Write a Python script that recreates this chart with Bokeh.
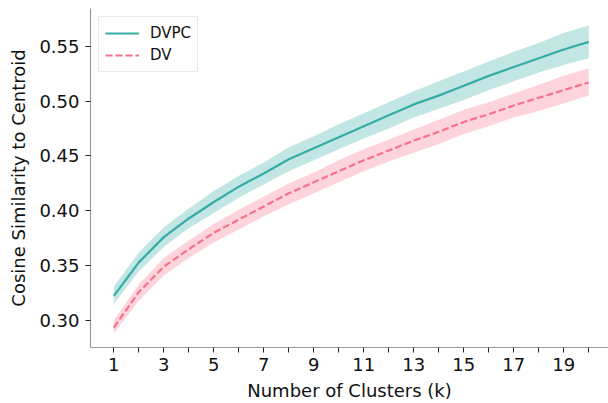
from bokeh.plotting import figure
from bokeh.models import Range1d, FixedTicker, Legend, LegendItem
from bokeh.embed import file_html
from bokeh.resources import INLINE

# ---- data ----
k = list(range(1, 21))
dvpc_mean = [0.3225, 0.353, 0.376, 0.393, 0.408, 0.422, 0.434, 0.447, 0.457, 0.467,
             0.477, 0.487, 0.497, 0.505, 0.514, 0.523, 0.531, 0.539, 0.547, 0.554]
dvpc_upper = [0.331, 0.362, 0.385, 0.402, 0.418, 0.432, 0.444, 0.458, 0.468, 0.479,
              0.489, 0.499, 0.509, 0.518, 0.527, 0.536, 0.545, 0.553, 0.562, 0.569]
dvpc_lower = [0.315, 0.345, 0.367, 0.384, 0.398, 0.412, 0.424, 0.436, 0.446, 0.456,
              0.466, 0.475, 0.485, 0.493, 0.501, 0.510, 0.518, 0.526, 0.533, 0.539]
dv_mean = [0.2935, 0.326, 0.349, 0.365, 0.380, 0.392, 0.404, 0.416, 0.426, 0.436,
           0.446, 0.455, 0.464, 0.472, 0.481, 0.488, 0.496, 0.503, 0.510, 0.517]
dv_upper = [0.300, 0.333, 0.357, 0.373, 0.388, 0.401, 0.413, 0.425, 0.435, 0.446,
            0.456, 0.465, 0.474, 0.483, 0.492, 0.499, 0.507, 0.515, 0.523, 0.530]
dv_lower = [0.2885, 0.318, 0.341, 0.357, 0.371, 0.383, 0.395, 0.406, 0.416, 0.426,
            0.436, 0.445, 0.453, 0.461, 0.470, 0.477, 0.485, 0.491, 0.498, 0.505]
y_ticks = [0.30, 0.35, 0.40, 0.45, 0.50, 0.55]
x_tick_labels = {i: (str(i) if i % 2 == 1 else "") for i in k}

TEAL = "#36ada4"
PINK = "#f7718a"
FONT = "DejaVu Sans"

p = figure(width=608, height=403, output_backend="svg", toolbar_location=None,
           x_range=Range1d(0.067, 20.79), y_range=Range1d(0.2754, 0.5844),
           min_border_left=90, min_border_right=0, min_border_top=8, min_border_bottom=56)
p.outline_line_color = None
p.xgrid.visible = False
p.ygrid.visible = False
p.background_fill_color = "white"
p.border_fill_color = "white"

p.varea(x=k, y1=dvpc_lower, y2=dvpc_upper, fill_color=TEAL, fill_alpha=0.3)
p.varea(x=k, y1=dv_lower, y2=dv_upper, fill_color=PINK, fill_alpha=0.3)
r1 = p.line(k, dvpc_mean, line_color=TEAL, line_width=2.2)
r2 = p.line(k, dv_mean, line_color=PINK, line_width=2.2, line_dash="7 3")

for ax in (p.xaxis[0], p.yaxis[0]):
    ax.axis_line_color = "#999999"
    ax.axis_line_width = 1.2
    ax.major_tick_line_color = "#222222"
    ax.major_tick_out = 5
    ax.major_tick_in = 0
    ax.minor_tick_out = 0
    ax.minor_tick_in = 0
    ax.major_label_text_font = FONT
    ax.major_label_text_font_size = "18px"
    ax.major_label_text_color = "#111111"
    ax.axis_label_text_font = FONT
    ax.axis_label_text_font_size = "18px"
    ax.axis_label_text_font_style = "normal"
    ax.axis_label_text_color = "#111111"

p.xaxis.ticker = FixedTicker(ticks=k)
p.xaxis.major_label_overrides = x_tick_labels
p.xaxis.axis_label = "Number of Clusters (k)"
p.xaxis.major_label_standoff = 5
p.xaxis.axis_label_standoff = 6

p.yaxis.ticker = FixedTicker(ticks=y_ticks)
p.yaxis.major_label_overrides = {t: f"{t:.2f}" for t in y_ticks}
p.yaxis.axis_label = "Cosine Similarity to Centroid"
p.yaxis.major_label_standoff = 6
p.yaxis.axis_label_standoff = 7

legend = Legend(items=[LegendItem(label="DVPC", renderers=[r1]),
                       LegendItem(label="DV", renderers=[r2])],
                location="top_left")
legend.margin = 8
legend.padding = 6
legend.spacing = 2
legend.glyph_width = 34
legend.glyph_height = 20
legend.label_height = 20
legend.label_standoff = 11
legend.label_text_font = FONT
legend.label_text_font_size = "15px"
legend.label_text_color = "#111111"
legend.border_line_color = "#d6d6d6"
legend.border_line_width = 1
legend.background_fill_alpha = 0.8
p.add_layout(legend)

open("out.html", "w").write(file_html(p, INLINE))
